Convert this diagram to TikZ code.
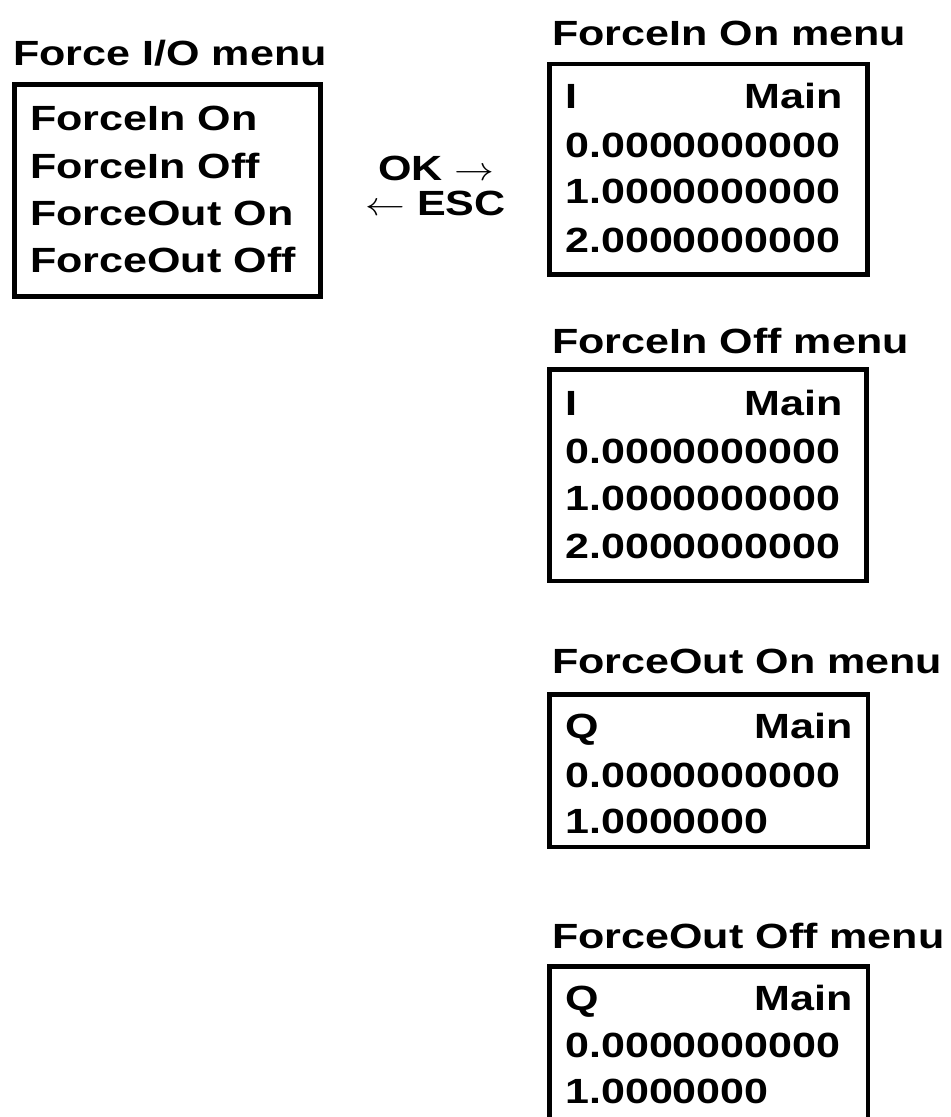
\documentclass[tikz,border=0pt]{standalone}
\usepackage{fontspec}
\newfontfamily\lcdfont{Liberation Sans}[FakeStretch=1.23]
\newcommand{\px}{0.75pt}
\tikzset{
  menubox/.style={draw, line width=3.6pt, inner sep=0pt, outer sep=0pt, anchor=north west},
  rowtext/.style={anchor=base west, inner sep=0pt},
  rowright/.style={anchor=base east, inner sep=0pt},
}
\begin{document}
\begin{tikzpicture}[x=0.75pt,y=-0.75pt, font=\lcdfont\bfseries\fontsize{26.25}{30}\selectfont]
\useasboundingbox (0,0) rectangle (950,1117);
\clip (0,0) rectangle (950,1117);

% Force I/O menu
\node[rowtext] (iotitle) at (13,65) {Force I/O menu};
\node[menubox, minimum width=306*\px, minimum height=212*\px] (iobox) at (14.5,84.5) {};
\foreach \y/\ytext [count=\i] in {130/ForceIn On,178/ForceIn Off,225/ForceOut On,272/ForceOut Off}
\node[rowtext] (io\i) at (30,\y) {\ytext};

% keys
\node[rowtext] (ok) at (378,180) {OK \scalebox{1.2}[1]{$\rightarrow$}};
\node[rowtext] (esc) at (365,215) {\scalebox{1.2}[1]{$\leftarrow$} ESC};

% ForceIn On menu
\node[rowtext] (inontitle) at (552,45) {ForceIn On menu};
\node[menubox, minimum width=318*\px, minimum height=210.5*\px] (inonbox) at (549.5,64) {};
\node[rowtext] (inonid) at (565,108) {I};
\node[rowright] (inonmain) at (843,108) {Main};
\foreach \y/\ytext [count=\i] in {157/0.0000000000,203/1.0000000000,252/2.0000000000}
\node[rowtext] (inon\i) at (565,\y) {\ytext};

% ForceIn Off menu
\node[rowtext] (inofftitle) at (552,353) {ForceIn Off menu};
\node[menubox, minimum width=317*\px, minimum height=211.5*\px] (inoffbox) at (549.5,369.5) {};
\node[rowtext] (inoffid) at (565,415) {I};
\node[rowright] (inoffmain) at (843,415) {Main};
\foreach \y/\ytext [count=\i] in {463/0.0000000000,510/1.0000000000,558/2.0000000000}
\node[rowtext] (inoff\i) at (565,\y) {\ytext};

% ForceOut On menu
\node[rowtext] (outontitle) at (552,673) {ForceOut On menu};
\node[menubox, minimum width=318.5*\px, minimum height=152.5*\px] (outonbox) at (549.5,694.5) {};
\node[rowtext] (outonid) at (565,738) {Q};
\node[rowright] (outonmain) at (853,738) {Main};
\foreach \y/\ytext [count=\i] in {787/0.0000000000,833/1.0000000}
\node[rowtext] (outon\i) at (565,\y) {\ytext};

% ForceOut Off menu
\node[rowtext] (outofftitle) at (552,948) {ForceOut Off menu};
\node[menubox, minimum width=318.5*\px, minimum height=152.5*\px] (outoffbox) at (549.5,966.5) {};
\node[rowtext] (outoffid) at (565,1010) {Q};
\node[rowright] (outoffmain) at (853,1010) {Main};
\foreach \y/\ytext [count=\i] in {1057/0.0000000000,1103/1.0000000}
\node[rowtext] (outoff\i) at (565,\y) {\ytext};

\end{tikzpicture}
\end{document}
